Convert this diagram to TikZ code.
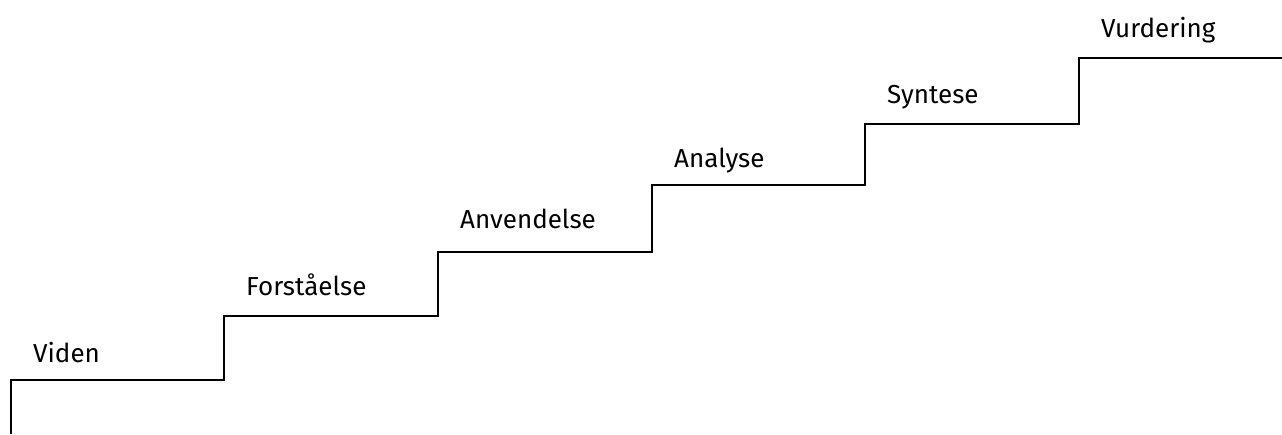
\documentclass[tikz,border=0pt]{standalone}
\usepackage{fontspec}
\setmainfont{Fira Sans}
\begin{document}
\begin{tikzpicture}[x=1pt,y=-1pt,
  stair/.style={draw=black,line width=1.6pt,line join=miter},
  level/.style={anchor=base west,inner sep=0pt,font=\fontsize{26}{30}\selectfont}]
\useasboundingbox (0,0) rectangle (1282,434);
% corners of the staircase
\coordinate (s0) at (11,434);
\coordinate (a1) at (11,380);   \coordinate (b1) at (224,380);
\coordinate (a2) at (224,316);  \coordinate (b2) at (438,316);
\coordinate (a3) at (438,252);  \coordinate (b3) at (652,252);
\coordinate (a4) at (652,185);  \coordinate (b4) at (865,185);
\coordinate (a5) at (865,124);  \coordinate (b5) at (1079,124);
\coordinate (a6) at (1079,58);  \coordinate (b6) at (1282,58);
\draw[stair] (s0) -- (a1) -- (b1) -- (a2) -- (b2) -- (a3) -- (b3)
  -- (a4) -- (b4) -- (a5) -- (b5) -- (a6) -- (b6);
% step labels
\node[level] (l1) at ([xshift=22pt,yshift=18pt]a1) {Viden};
\node[level] (l2) at ([xshift=22pt,yshift=21pt]a2) {Forståelse};
\node[level] (l3) at ([xshift=22pt,yshift=24pt]a3) {Anvendelse};
\node[level] (l4) at ([xshift=22pt,yshift=18pt]a4) {Analyse};
\node[level] (l5) at ([xshift=22pt,yshift=21pt]a5) {Syntese};
\node[level] (l6) at ([xshift=22pt,yshift=21pt]a6) {Vurdering};
\end{tikzpicture}
\end{document}
